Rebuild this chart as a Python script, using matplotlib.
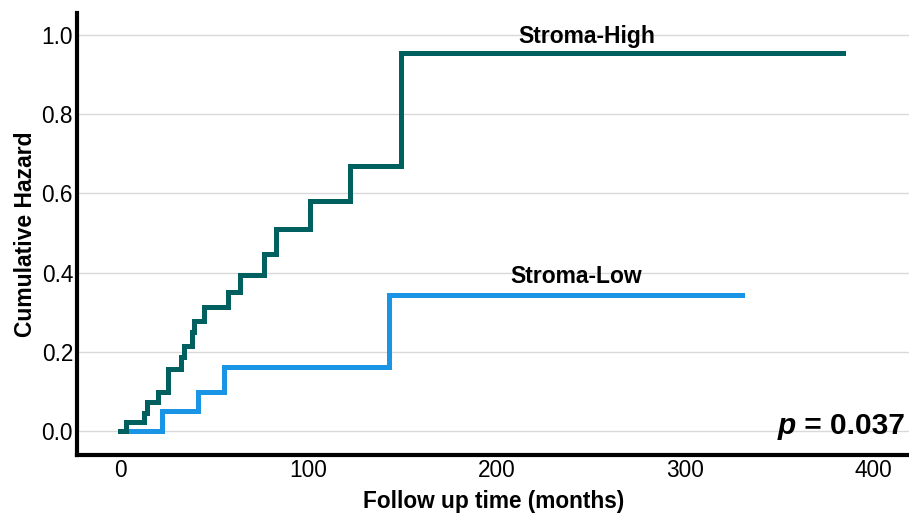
import numpy as np
import matplotlib.pyplot as plt

plt.rcParams['font.family'] = ['Liberation Sans', 'DejaVu Sans']

# ------ datos ------
high_t = [0, 3.2, 12.4, 14.3, 20.3, 25.3, 32.4, 34.1, 38.2, 39.0, 44.4, 57.5, 63.5, 76.6, 82.8, 100.8, 122.0, 149.0, 384.0]
high_h = [0.0, 0.024, 0.047, 0.074, 0.100, 0.156, 0.186, 0.215, 0.249, 0.277, 0.314, 0.351, 0.393, 0.448, 0.510, 0.580, 0.668, 0.953, 0.953]

low_t = [0, 22.3, 41.5, 55.3, 142.9, 330.5]
low_h = [0.0, 0.050, 0.100, 0.161, 0.344, 0.344]

yticks = [0.0, 0.2, 0.4, 0.6, 0.8, 1.0]
xticks = [0, 100, 200, 300, 400]

green = '#005f5f'
blue = '#1a95e6'

fig, ax = plt.subplots(figsize=(9.09, 5.17), dpi=100)
fig.subplots_adjust(left=0.085, right=1.0, bottom=0.12, top=0.975)

ax.step(low_t, low_h, where='post', color=blue, lw=3.6, zorder=3, solid_joinstyle='miter')
ax.step(high_t, high_h, where='post', color=green, lw=3.6, zorder=4, solid_joinstyle='miter')

ax.text(248, 0.995, 'Stroma-High', ha='center', va='center', fontsize=16.5, fontweight='bold')
ax.text(242, 0.39, 'Stroma-Low', ha='center', va='center', fontsize=16.5, fontweight='bold')

# p valor: "p" en negrita cursiva + resto en negrita
t_num = fig.text(0.996, 0.148, ' = 0.037', ha='right', va='bottom', fontsize=21.5, fontweight='bold')
fig.canvas.draw()
bb = t_num.get_window_extent()
fig.text(bb.x0 / fig.bbox.width, 0.148, 'p', ha='right', va='bottom', fontsize=21.5,
         fontweight='bold', style='italic')

ax.set_xlim(-22.8, 419)
ax.set_ylim(-0.06, 1.055)
ax.set_xticks(xticks)
ax.set_yticks(yticks)
ax.set_yticklabels([f'{v:.1f}' for v in yticks])
ax.tick_params(length=0, labelsize=16.3, pad=3)
ax.grid(axis='y', color='#d9d9d9', lw=1)
ax.set_axisbelow(True)
for s in ['top', 'right']:
    ax.spines[s].set_visible(False)
for s in ['left', 'bottom']:
    ax.spines[s].set_linewidth(3)
ax.set_xlabel('Follow up time (months)', fontsize=16.3, fontweight='bold', labelpad=6)
ax.set_ylabel('Cumulative Hazard', fontsize=16.5, fontweight='bold', labelpad=3)

plt.savefig('out.png', dpi=100)
